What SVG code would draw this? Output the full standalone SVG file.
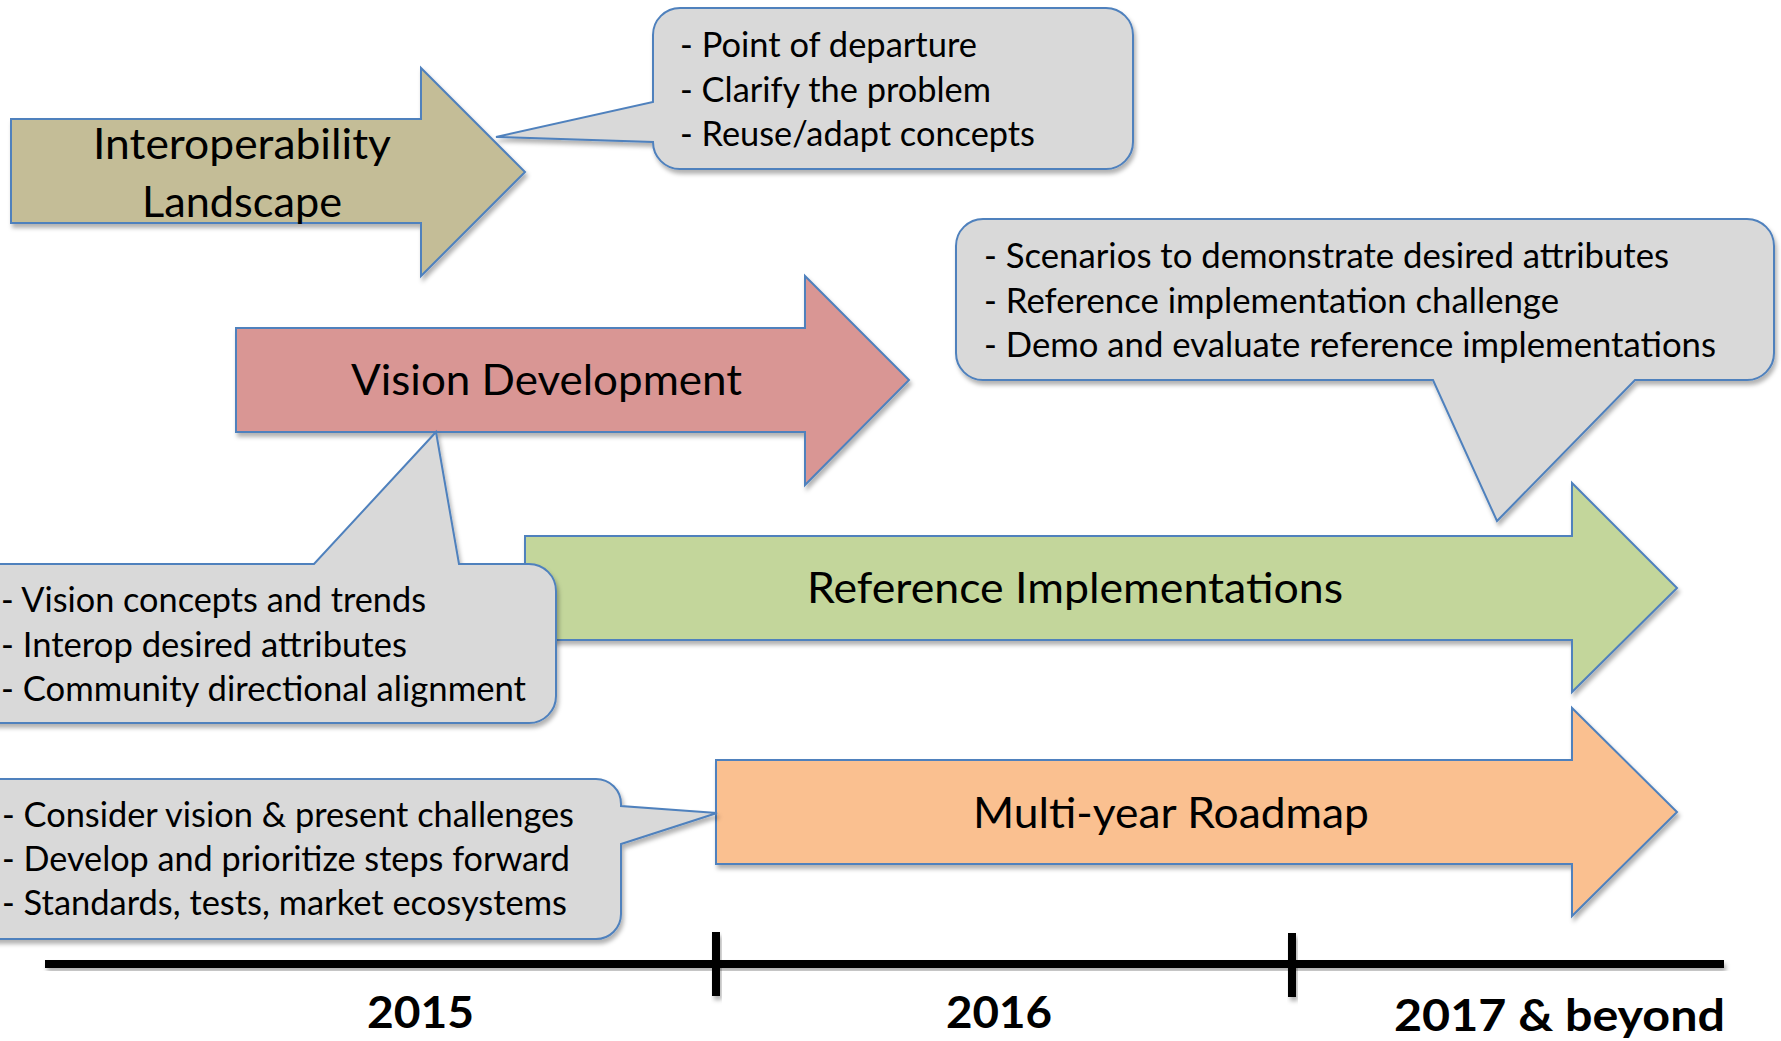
<svg xmlns="http://www.w3.org/2000/svg" width="1781" height="1041" viewBox="0 0 1781 1041">
<style>
.shape{stroke:#4f81bd;stroke-width:2;filter:url(#sh)}
.callout{fill:#d9d9d9}
.t{font-family:Lato,"Open Sans","Liberation Sans",sans-serif;fill:#000}
.c{font-size:34px}
.h{font-size:42px}
.y{font-size:43px;font-weight:bold}
.tl{fill:#000;filter:url(#sh)}
</style>
<defs>
<filter id="sh" x="-10%" y="-10%" width="130%" height="140%">
<feDropShadow dx="2" dy="4" stdDeviation="2" flood-color="#000" flood-opacity="0.3"/>
</filter>
</defs>
<rect width="1781" height="1041" fill="#fff"/>
<g id="connectors"></g>
<g id="timeline">
<rect class="tl" x="45" y="960" width="1679" height="8"/>
<rect class="tl" x="712" y="932" width="8" height="64"/>
<rect class="tl" x="1288" y="933" width="8" height="64"/>
<text class="t y" x="367" y="1028" textLength="107" lengthAdjust="spacingAndGlyphs">2015</text>
<text class="t y" x="946" y="1028" textLength="106" lengthAdjust="spacingAndGlyphs">2016</text>
<text class="t y" x="1394" y="1031" textLength="331" lengthAdjust="spacingAndGlyphs">2017 &amp; beyond</text>
</g>
<g id="interop">
<path class="shape" fill="#c4bd97" d="M11,119 H421 V68 L525,172 L421,276 V223 H11 Z"/>
<text class="t h" x="93" y="159" textLength="298" lengthAdjust="spacingAndGlyphs">Interoperability</text>
<text class="t h" x="142" y="217" textLength="200" lengthAdjust="spacingAndGlyphs">Landscape</text>
</g>
<g id="vision">
<path class="shape" fill="#d99694" d="M236,328 H805 V276 L909,380 L805,485 V432 H236 Z"/>
<text class="t h" x="351" y="395" textLength="391" lengthAdjust="spacingAndGlyphs">Vision Development</text>
</g>
<g id="refimpl">
<path class="shape" fill="#c3d69b" d="M525,536 H1572 V483 L1677,588 L1572,692 V640 H525 Z"/>
<text class="t h" x="807" y="603" textLength="536" lengthAdjust="spacingAndGlyphs">Reference Implementations</text>
</g>
<g id="roadmap">
<path class="shape" fill="#fac090" d="M716,760 H1572 V708 L1677,812 L1572,916 V864 H716 Z"/>
<text class="t h" x="973" y="828" textLength="396" lengthAdjust="spacingAndGlyphs">Multi-year Roadmap</text>
</g>
<g id="callout-landscape">
<path class="shape callout" d="M680,8 H1106 A27,27 0 0 1 1133,35 V142 A27,27 0 0 1 1106,169 H680 A27,27 0 0 1 653,142 L496,137 L653,102 V35 A27,27 0 0 1 680,8 Z"/>
<text class="t c" x="680" y="57" textLength="297" lengthAdjust="spacingAndGlyphs">- Point of departure</text>
<text class="t c" x="680" y="102" textLength="311" lengthAdjust="spacingAndGlyphs">- Clarify the problem</text>
<text class="t c" x="680" y="146" textLength="355" lengthAdjust="spacingAndGlyphs">- Reuse/adapt concepts</text>
</g>
<g id="callout-refimpl">
<path class="shape callout" d="M983,219 H1747 A27,27 0 0 1 1774,246 V353 A27,27 0 0 1 1747,380 H1635 L1497,521 L1433,380 H983 A27,27 0 0 1 956,353 V246 A27,27 0 0 1 983,219 Z"/>
<text class="t c" x="984" y="268" textLength="685" lengthAdjust="spacingAndGlyphs">- Scenarios to demonstrate desired attributes</text>
<text class="t c" x="984" y="313" textLength="575" lengthAdjust="spacingAndGlyphs">- Reference implementation challenge</text>
<text class="t c" x="984" y="357" textLength="732" lengthAdjust="spacingAndGlyphs">- Demo and evaluate reference implementations</text>
</g>
<g id="callout-vision">
<path class="shape callout" d="M-30,564 H314 L436,432 L459,564 H529 A27,27 0 0 1 556,591 V696 A27,27 0 0 1 529,723 H-30 Z"/>
<text class="t c" x="1" y="612" textLength="425" lengthAdjust="spacingAndGlyphs">- Vision concepts and trends</text>
<text class="t c" x="1" y="657" textLength="406" lengthAdjust="spacingAndGlyphs">- Interop desired attributes</text>
<text class="t c" x="1" y="701" textLength="525" lengthAdjust="spacingAndGlyphs">- Community directional alignment</text>
</g>
<g id="callout-roadmap">
<path class="shape callout" d="M-30,779 H596 A25,25 0 0 1 621,804 V806 L717,813 L621,844 V914 A25,25 0 0 1 596,939 H-30 Z"/>
<text class="t c" x="2" y="827" textLength="572" lengthAdjust="spacingAndGlyphs">- Consider vision &amp; present challenges</text>
<text class="t c" x="2" y="871" textLength="568" lengthAdjust="spacingAndGlyphs">- Develop and prioritize steps forward</text>
<text class="t c" x="2" y="915" textLength="565" lengthAdjust="spacingAndGlyphs">- Standards, tests, market ecosystems</text>
</g>
</svg>
